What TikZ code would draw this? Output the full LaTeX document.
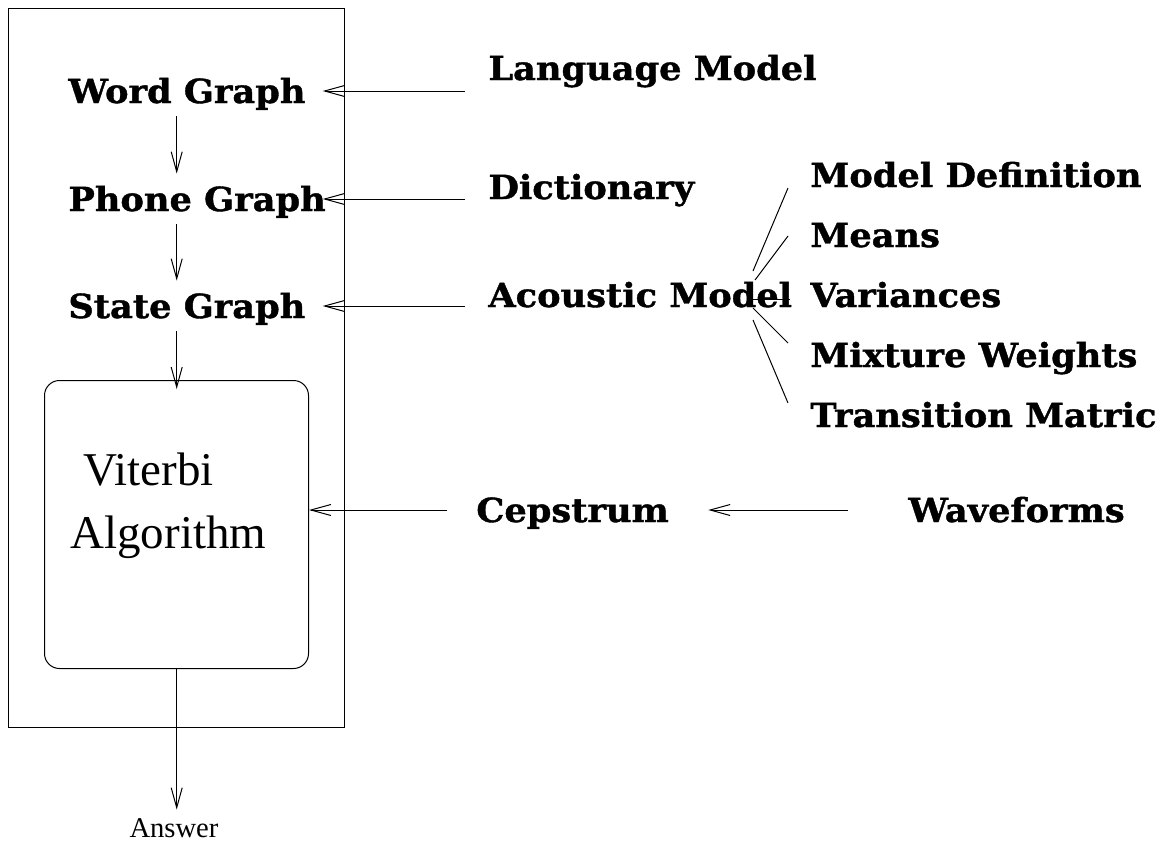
\documentclass[tikz,border=0pt]{standalone}
\usepackage{fontspec}
\setmainfont{Liberation Serif}
\newfontfamily\slab[FakeStretch=1.06, FakeBold=1.2]{DejaVu Serif}
\usetikzlibrary{arrows.meta}

\tikzset{
  ln/.style={line width=0.5pt},
  arr/.style={ln, -{Straight Barb[length=10pt,width=5.5pt]}},
  lbl/.style={font=\slab\bfseries\fontsize{16.6}{20}\selectfont,
    inner xsep=0pt, inner ysep=2.5pt, text height=16pt, text depth=4pt,
    anchor=base west},
  feed/.style={lbl, inner xsep=11.5pt},
  sub/.style={lbl},
  frame/.style={draw, ln, inner sep=0pt, anchor=north west},
}

\begin{document}
\begin{tikzpicture}[x=0.5pt, y=-0.5pt]
\useasboundingbox (0,0) rectangle (1167,841);

% outer frame and search box
\node[frame, minimum width=168pt, minimum height=359.5pt] (outer) at (8,8) {};
\node[frame, rounded corners=7.5pt, minimum width=132pt, minimum height=144pt] (vit) at (44,380) {};
\node[anchor=base west, inner sep=0pt, font=\fontsize{23.5}{28}\selectfont] (vit1) at (83,485) {Viterbi};
\node[anchor=base west, inner sep=0pt, font=\fontsize{23.5}{28}\selectfont] (vit2) at (70,548) {Algorithm};

% graph column
\coordinate (axis) at (176.7,0);
\coordinate (tipcol) at (322.7,0);
\node[lbl] (word)  at (68,103) {Word Graph};
\node[lbl] (phone) at (68,211) {Phone Graph};
\node[lbl] (state) at (68,318) {State Graph};

\draw[arr] (word.south -| axis) -- (phone.north -| axis);
\draw[arr] (phone.south -| axis) -- (state.north -| axis);
\draw[arr, shorten >=-4.5pt] (state.south -| axis) -- (vit.north -| axis);

\node[anchor=base, inner xsep=0pt, inner ysep=4pt, text height=9.5pt,
  font=\fontsize{14.3}{16}\selectfont] (answer) at (174,837) {Answer};
\draw[arr] (vit.south -| axis) -- (answer.north -| axis);

% knowledge sources
\node[feed] (lang) at (465,80)  {Language Model};
\node[feed] (dict) at (465,199) {Dictionary};
\node[feed] (acou) at (465,307) {Acoustic Model};

\draw[arr] (lang.west |- word) -- (tipcol |- word);
\draw[arr] (dict.west |- phone) -- (tipcol |- phone);
\draw[arr] (acou.west |- state) -- (tipcol |- state);

% acoustic model parts
\node[sub] (mdef)  at (810,187) {Model Definition};
\node[sub] (means) at (810,247) {Means};
\node[sub] (vars)  at (810,307) {Variances};
\node[sub] (mixw)  at (810,367) {Mixture Weights};
\node[sub] (trans) at (810,427) {Transition Matric};

\coordinate (a1) at (753,271); \coordinate (b1) at (788,188);
\coordinate (a2) at (755,280); \coordinate (b2) at (788,236);
\coordinate (a3) at (752,299); \coordinate (b3) at (790,299);
\coordinate (a4) at (753,308); \coordinate (b4) at (788,343);
\coordinate (a5) at (753,320); \coordinate (b5) at (788,403);
\foreach \i in {1,...,5} \draw[ln] (a\i) -- (b\i);

% signal path
\node[lbl, inner xsep=14.5pt] (ceps) at (447,522) {Cepstrum};
\node[lbl] (wave) at (908,522) {Waveforms};
\draw[arr] (ceps.west) -- (ceps.west -| vit.east);
\draw[arr, shorten <=30pt] (wave.west) -- ([xshift=5pt]ceps.east);
\end{tikzpicture}
\end{document}
